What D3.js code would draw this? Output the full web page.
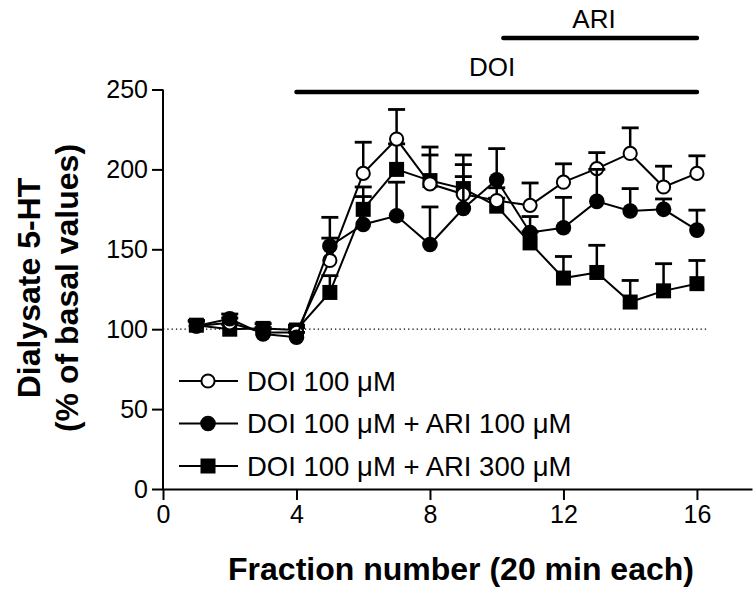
<!DOCTYPE html>
<html>
<head>
<meta charset="utf-8">
<script src="https://cdn.jsdelivr.net/npm/d3@7"></script>
<style>
  body { margin: 0; background: #fff; }
  text { font-family: Arial, "Liberation Sans", sans-serif; fill: #000; }
</style>
</head>
<body>
<svg id="chart" width="753" height="590"></svg>
<script>
var fractions = [1, 2, 3, 4, 5, 6, 7, 8, 9, 10, 11, 12, 13, 14, 15, 16];
var doi     = [102, 104, 98, 98, 143, 197.5, 219, 191, 184.5, 180.5, 177.5, 192, 200.5, 210, 189, 197.5];
var doiErr  = [3, 3, 3, 3, 14, 19.5, 18.5, 18, 18.5, 8, 14, 11.5, 10, 16, 13, 11];
var ari100    = [102, 106.5, 97, 95, 152, 165.5, 171, 153, 175.5, 193.5, 160.5, 163.5, 180, 174, 175, 162];
var ari100Err = [3, 3, 3, 3, 18, 17.5, 21, 23.5, 20, 19.5, 10, 19, 20, 14, 6.5, 12.5];
var ari300    = [102.5, 100, 100.5, 99.5, 123, 175, 200, 193, 188, 177, 154, 132, 135.5, 117, 124, 128.5];
var ari300Err = [3, 3, 3, 3, 10.5, 14, 16, 21, 21, 5, 7, 13.5, 17, 13.5, 17, 14.5];
var legendLabels = ["DOI 100 \u03bcM", "DOI 100 \u03bcM + ARI 100 \u03bcM", "DOI 100 \u03bcM + ARI 300 \u03bcM"];
var xTicks = [0, 4, 8, 12, 16];
var yTicks = [0, 50, 100, 150, 200, 250];
var treatments = [{label: "DOI", from: 4, to: 16}, {label: "ARI", from: 10.2, to: 16}];

var svg = d3.select("#chart");
var x = d3.scaleLinear().domain([0, 17.65]).range([163, 752]);
var y = d3.scaleLinear().domain([0, 250]).range([489, 89.5]);

// axes
var yAxis = svg.append("g").attr("transform", "translate(163,0)")
    .call(d3.axisLeft(y).tickValues(yTicks).tickSize(11).tickPadding(4).tickSizeOuter(0));
var xAxis = svg.append("g").attr("transform", "translate(0," + y(0) + ")")
    .call(d3.axisBottom(x).tickValues(xTicks).tickSize(11).tickPadding(5).tickSizeOuter(0));
[xAxis, yAxis].forEach(function(a){
    a.select(".domain").attr("stroke", "#000").attr("stroke-width", 2);
    a.selectAll(".tick line").attr("stroke", "#000").attr("stroke-width", 2);
    a.selectAll(".tick text").style("font-size", "25px").attr("fill", "#000");
});
yAxis.select(".domain").attr("d", "M0," + y(250) + "V" + (y(0) + 1));

// baseline 100%
svg.append("line")
    .attr("x1", x(0)).attr("x2", x(16.3))
    .attr("y1", y(100)).attr("y2", y(100))
    .attr("stroke", "#000").attr("stroke-width", 1.3)
    .attr("stroke-dasharray", "1.3,3");

// treatment bars
treatments.forEach(function(t, i){
    var by = i == 0 ? 92 : 38;
    svg.append("line")
        .attr("x1", x(t.from)).attr("x2", x(t.to))
        .attr("y1", by).attr("y2", by)
        .attr("stroke", "#000").attr("stroke-width", 4.5)
        .attr("stroke-linecap", "round");
    svg.append("text")
        .attr("x", i == 0 ? 492 : 594).attr("y", i == 0 ? by - 16 : by - 10)
        .attr("text-anchor", "middle")
        .style("font-size", "26px")
        .text(t.label);
});

var series = [
    {values: ari300, err: ari300Err, shape: "square", fill: "#000"},
    {values: doi, err: doiErr, shape: "circle", fill: "#fff"},
    {values: ari100, err: ari100Err, shape: "circle", fill: "#000"}
];

var line = d3.line()
    .x(function(d){ return x(d.f); })
    .y(function(d){ return y(d.v); });

function drawMarker(g, shape, fill, cx, cy){
    if(shape == "square"){
        g.append("rect")
            .attr("x", cx - 7.5).attr("y", cy - 7.5)
            .attr("width", 15).attr("height", 15)
            .attr("fill", "#000");
    } else {
        g.append("circle")
            .attr("cx", cx).attr("cy", cy)
            .attr("r", fill == "#000" ? 7.8 : 6.6)
            .attr("fill", fill)
            .attr("stroke", "#000").attr("stroke-width", fill == "#000" ? 0 : 2);
    }
}

series.forEach(function(s){
    var pts = fractions.map(function(f, i){ return {f: f, v: s.values[i], e: s.err[i]}; });
    var g = svg.append("g");
    // error bars (upper only)
    pts.forEach(function(p){
        g.append("line")
            .attr("x1", x(p.f)).attr("x2", x(p.f))
            .attr("y1", y(p.v)).attr("y2", y(p.v + p.e))
            .attr("stroke", "#000").attr("stroke-width", 2.5);
        g.append("line")
            .attr("x1", x(p.f) - 8.5).attr("x2", x(p.f) + 8.5)
            .attr("y1", y(p.v + p.e)).attr("y2", y(p.v + p.e))
            .attr("stroke", "#000").attr("stroke-width", 2.8);
    });
    g.append("path")
        .attr("d", line(pts))
        .attr("fill", "none")
        .attr("stroke", "#000").attr("stroke-width", 2);
    pts.forEach(function(p){
        drawMarker(g, s.shape, s.fill, x(p.f), y(p.v));
    });
});

// legend
var legendItems = [
    {label: legendLabels[0], shape: "circle", fill: "#fff"},
    {label: legendLabels[1], shape: "circle", fill: "#000"},
    {label: legendLabels[2], shape: "square", fill: "#000"}
];
var legendY = [381, 423.5, 466];
legendItems.forEach(function(d, i){
    var g = svg.append("g");
    g.append("line")
        .attr("x1", 179).attr("x2", 238)
        .attr("y1", legendY[i]).attr("y2", legendY[i])
        .attr("stroke", "#000").attr("stroke-width", 2);
    drawMarker(g, d.shape, d.fill, 208, legendY[i]);
    g.append("text")
        .attr("x", 247).attr("y", legendY[i] + 9.5)
        .style("font-size", "27.5px")
        .text(d.label);
});

// axis titles
svg.append("text")
    .attr("x", 461).attr("y", 580)
    .attr("text-anchor", "middle")
    .style("font-size", "32px").style("font-weight", "bold")
    .text("Fraction number (20 min each)");

var yTitle = svg.append("text")
    .attr("transform", "translate(0,288) rotate(-90)")
    .attr("text-anchor", "middle")
    .style("font-size", "32px").style("font-weight", "bold");
yTitle.append("tspan").attr("x", 0).attr("y", 40).text("Dialysate 5-HT");
yTitle.append("tspan").attr("x", 0).attr("y", 78).text("(% of basal values)");
</script>
</body>
</html>
